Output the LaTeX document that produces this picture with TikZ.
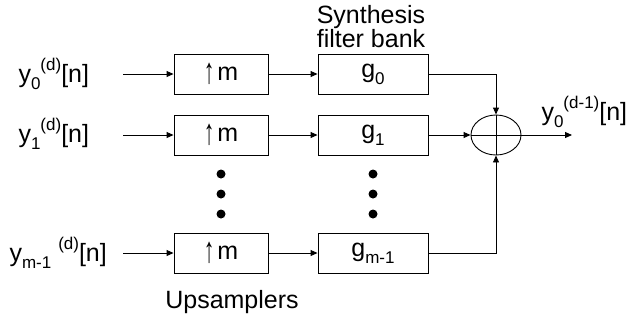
\documentclass[tikz,border=0pt]{standalone}
\usepackage{fontspec}
\setmainfont{Liberation Sans}
\usetikzlibrary{arrows.meta,shapes.geometric}
\newcommand{\lowtxt}[1]{\raisebox{-0.28em}{\fontsize{17}{17}\selectfont #1}}
\newcommand{\hightxt}[1]{\raisebox{0.5em}{\fontsize{17}{17}\selectfont #1}}
\newcommand{\upby}{\raisebox{-0.12em}{\scalebox{0.85}[1.45]{↑}}\hspace{0.12em}m}

\begin{document}
\begin{tikzpicture}[x=1pt,y=-1pt,
    lbl/.style={font=\fontsize{25}{24}\selectfont},
    blk/.style={draw,line width=0.9pt,minimum height=40pt,inner sep=0pt,font=\fontsize{25}{24}\selectfont},
    sig/.style={line width=0.9pt,-{Triangle[length=7pt,width=6pt]}},
    dot/.style={circle,fill,inner sep=0pt,minimum size=9pt}]
                \useasboundingbox (0,0) rectangle (634,322);
                \node[lbl,anchor=west] (in0) at (15,74) {y\lowtxt{0}\hightxt{(d)}[n]};
                \node[lbl,anchor=west] (in1) at (15,134) {y\lowtxt{1}\hightxt{(d)}[n]};
                \node[lbl,anchor=west] (inm) at (6,253) {y\lowtxt{m-1} \hightxt{(d)}[n]};
                \coordinate (s0) at (123,74);
                \coordinate (s1) at (123,135);
                \coordinate (sm) at (123,253);
                \node[blk,minimum width=94pt] (up0) at (221,74) {\upby};
                \node[blk,minimum width=94pt] (up1) at (221,135) {\upby};
                \node[blk,minimum width=94pt] (upm) at (221,253) {\upby};
                \node[blk,minimum width=110pt] (g0) at (373,74) {g\lowtxt{0}};
                \node[blk,minimum width=110pt] (g1) at (373,135) {g\lowtxt{1}};
                \node[blk,minimum width=110pt] (gm) at (373,253) {g\lowtxt{m-1}};
                \foreach \y [count=\i] in {174,194,214} {
                    \node[dot] (du\i) at (221,\y) {};
                    \node[dot] (dg\i) at (373,\y) {};
                }
                \node[draw,ellipse,line width=0.9pt,minimum width=50pt,minimum height=40pt,inner sep=0pt] (sum) at (496,135) {};
                \draw[line width=0.9pt] (sum.west) -- (sum.east);
                \draw[line width=0.9pt] (sum.north) -- (sum.south);
                \coordinate (out) at (572,135);
                \node[lbl,anchor=west] (outlbl) at (538,112) {y\lowtxt{0}\hightxt{(d-1)}[n]};
                \node[lbl,align=center] (syn) at (371,27) {Synthesis\\filter bank};
                \node[lbl] (ups) at (232,302) {Upsamplers};
                \draw[sig] (s0) -- (up0);
                \draw[sig] (s1) -- (up1);
                \draw[sig] (sm) -- (upm);
                \draw[sig] (up0) -- (g0);
                \draw[sig] (up1) -- (g1);
                \draw[sig] (upm) -- (gm);
                \draw[sig] (g0.east) -| (sum.north);
                \draw[sig] (g1) -- (sum);
                \draw[sig] (gm.east) -| (sum.south);
                \draw[sig] (sum) -- (out);
            \end{tikzpicture}
\end{document}
